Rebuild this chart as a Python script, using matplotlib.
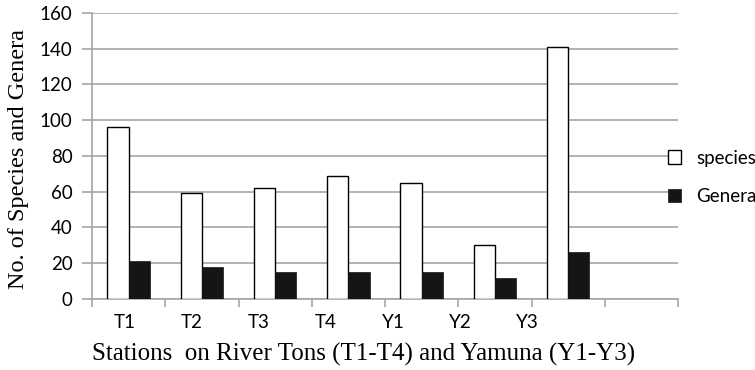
import matplotlib
matplotlib.use("Agg")
import matplotlib.pyplot as plt
import numpy as np

# stations and counts
stations = ["T1", "T2", "T3", "T4", "Y1", "Y2", "Y3"]
species = [96, 59, 62, 69, 65, 30, 141]
genera = [21, 18, 15, 15, 15, 12, 26]
n_slots = 8  # the category axis has one empty slot on the right

fig = plt.figure(figsize=(7.55, 3.7), dpi=100)
ax = fig.add_axes([0.122, 0.192, 0.776, 0.773])

x = np.arange(len(stations))
w = 0.29
ax.bar(x - w / 2, species, w, color="white", edgecolor="black", linewidth=1.0,
       label="species", zorder=3)
ax.bar(x + w / 2, genera, w, color="#151515", edgecolor="#151515", linewidth=0.5,
       label="Genera", zorder=3)

ax.set_xlim(-0.5, n_slots - 0.5)
ax.set_ylim(0, 160)
ax.set_yticks(np.arange(0, 161, 20))
ax.yaxis.grid(True, color="#a6a6a6", linewidth=1.2, zorder=0)
ax.set_axisbelow(True)

# tick marks at slot borders, labels placed as in the original (slightly drifting)
ax.set_xticks(np.arange(n_slots + 1) - 0.5)
ax.set_xticklabels([])
ax.set_xticks(np.arange(len(stations)) * 0.917 - 0.06, minor=True)
ax.set_xticklabels(stations, minor=True)
ax.tick_params(axis="x", which="minor", length=0, pad=11,
               labelsize=13.5, labelfontfamily="Lato")
ax.tick_params(axis="x", which="major", length=6, color="#a6a6a6", width=1.2)
ax.tick_params(axis="y", length=7, color="#a6a6a6", width=1.2, pad=7,
               labelsize=13.5, labelfontfamily="Lato")

for s in ["top", "right"]:
    ax.spines[s].set_visible(False)
for s in ["left", "bottom"]:
    ax.spines[s].set_color("#a6a6a6")
    ax.spines[s].set_linewidth(1.2)

ax.set_ylabel("No. of Species and Genera", fontfamily="Liberation Serif", fontsize=17.5)
ax.yaxis.set_label_coords(-0.108, 0.49)
ax.set_xlabel("Stations  on River Tons (T1-T4) and Yamuna (Y1-Y3)",
              fontfamily="Liberation Serif", fontsize=18)
ax.xaxis.set_label_coords(0.463, -0.155)

leg = ax.legend(loc="center left", bbox_to_anchor=(0.967, 0.425), frameon=False,
                prop={"family": "Lato", "size": 13.5}, handlelength=0.7,
                handleheight=0.7, labelspacing=1.15, handletextpad=0.8,
                borderpad=0)

fig.savefig("out.png", dpi=100)
